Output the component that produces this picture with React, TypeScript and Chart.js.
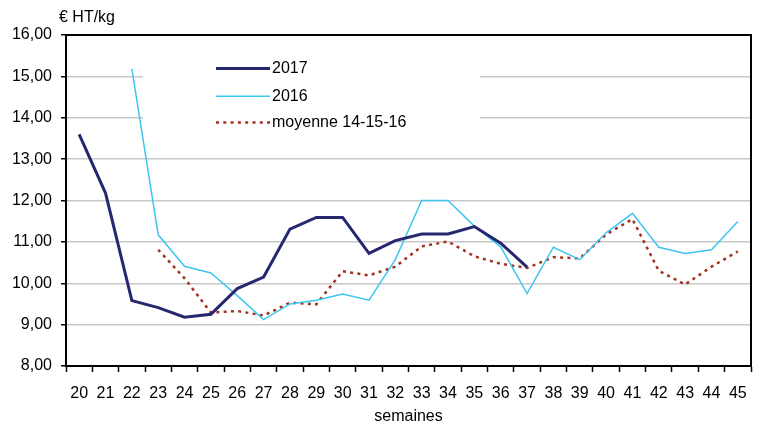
import React, { useEffect, useRef } from 'react';
import { Chart, registerables } from 'chart.js';

Chart.register(...registerables);

const weeks = ['20', '21', '22', '23', '24', '25', '26', '27', '28', '29', '30', '31', '32', '33', '34', '35', '36', '37', '38', '39', '40', '41', '42', '43', '44', '45'];

const values2017 = [13.6, 12.18, 9.58, 9.41, 9.18, 9.25, 9.87, 10.15, 11.31, 11.59, 11.59, 10.72, 11.03, 11.19, 11.19, 11.37, 10.97, 10.39, null, null, null, null, null, null, null, null];

const values2016 = [null, null, 15.18, 11.17, 10.41, 10.25, 9.7, 9.12, 9.5, 9.59, 9.74, 9.59, 10.57, 12.0, 12.0, 11.38, 10.88, 9.75, 10.87, 10.57, 11.22, 11.69, 10.87, 10.72, 10.81, 11.49];

const valuesMoyenne = [null, null, null, 10.81, 10.12, 9.29, 9.33, 9.22, 9.53, 9.49, 10.29, 10.19, 10.4, 10.89, 11.01, 10.65, 10.47, 10.37, 10.63, 10.6, 11.18, 11.55, 10.3, 9.97, 10.4, 10.77];

const seriesLabels = ['2017', '2016', 'moyenne 14-15-16'];
const seriesColors = ['#25286f', '#3ec6f2', '#a3311f'];
const unitLabel = '€ HT/kg';
const xTitle = 'semaines';

const FONT = "'Liberation Sans', Arial, sans-serif";

export default function App() {
  const ref = useRef<HTMLCanvasElement | null>(null);

  useEffect(() => {
    if (!ref.current) return;

    const framePlugin = {
      id: 'framePlugin',
      beforeDatasetsDraw(chart: any) {
        const { ctx, chartArea } = chart;
        ctx.save();
        ctx.fillStyle = '#ffffff';
        ctx.fillRect(143, 48, 337, 92);
        ctx.strokeStyle = '#000000';
        ctx.lineWidth = 2;
        ctx.strokeRect(chartArea.left, chartArea.top, chartArea.right - chartArea.left, chartArea.bottom - chartArea.top);
        ctx.restore();
      },
      afterDatasetsDraw(chart: any) {
        const { ctx } = chart;
        ctx.save();
        ctx.font = `16px ${FONT}`;
        ctx.fillStyle = '#000';
        ctx.textBaseline = 'middle';
        ctx.textAlign = 'left';
        const rows = [68.5, 96.3, 122.5];
        const widths = [3, 1.5, 2.5];
        const dashes = [[], [], [3, 4.3]];
        rows.forEach((y, i) => {
          ctx.beginPath();
          ctx.strokeStyle = seriesColors[i];
          ctx.lineWidth = widths[i];
          ctx.setLineDash(dashes[i]);
          ctx.moveTo(216, y);
          ctx.lineTo(270, y);
          ctx.stroke();
          ctx.setLineDash([]);
          ctx.fillText(seriesLabels[i], 272, y + 0.5);
        });
        ctx.fillText(unitLabel, 59, 18);
        ctx.restore();
      },
    };

    const chart = new Chart(ref.current, {
      type: 'line',
      data: {
        labels: weeks,
        datasets: [
          {
            label: seriesLabels[0],
            data: values2017,
            borderColor: seriesColors[0],
            borderWidth: 3,
            pointRadius: 0,
            tension: 0,
            spanGaps: false,
          },
          {
            label: seriesLabels[1],
            data: values2016,
            borderColor: seriesColors[1],
            borderWidth: 1.5,
            pointRadius: 0,
            tension: 0,
            spanGaps: false,
          },
          {
            label: seriesLabels[2],
            data: valuesMoyenne,
            borderColor: seriesColors[2],
            borderWidth: 2.5,
            borderDash: [3, 4.3],
            pointRadius: 0,
            tension: 0,
            spanGaps: false,
          },
        ],
      },
      plugins: [framePlugin],
      options: {
        animation: false,
        responsive: false,
        devicePixelRatio: 1,
        layout: { padding: { left: 0, right: 10, top: 35, bottom: 0 } },
        plugins: {
          legend: { display: false },
          tooltip: { enabled: false },
          title: { display: false },
        },
        scales: {
          x: {
            type: 'category',
            offset: true,
            grid: {
              offset: true,
              drawOnChartArea: false,
              drawTicks: true,
              tickLength: 6,
              tickColor: '#000',
              tickWidth: 1.5,
            },
            border: { color: '#000', width: 2 },
            ticks: {
              color: '#000',
              font: { family: FONT, size: 16 },
              padding: 11.5,
              maxRotation: 0,
              autoSkip: false,
            },
            title: {
              display: true,
              text: xTitle,
              color: '#000',
              font: { family: FONT, size: 16 },
              padding: { top: 0, bottom: -1.5 },
            },
            afterFit(scale: any) {
              scale.height = 59;
            },
          },
          y: {
            min: 8,
            max: 16,
            grid: {
              color: '#c8c8c8',
              lineWidth: 1.5,
              drawTicks: true,
              tickLength: 5,
              tickColor: '#000',
              tickWidth: 1.5,
            },
            border: { color: '#000', width: 2 },
            ticks: {
              stepSize: 1,
              color: '#000',
              font: { family: FONT, size: 16 },
              padding: 9,
              callback: (v: any) => Number(v).toFixed(2).replace('.', ','),
            },
            afterFit(scale: any) {
              scale.width = 66;
            },
          },
        },
      },
    });

    return () => chart.destroy();
  }, []);

  return (
    <div style={{ position: 'fixed', left: 0, top: 0, width: 761, height: 425, background: '#fff' }}>
      <canvas ref={ref} width={761} height={425} style={{ display: 'block', width: 761, height: 425 }} />
    </div>
  );
}
